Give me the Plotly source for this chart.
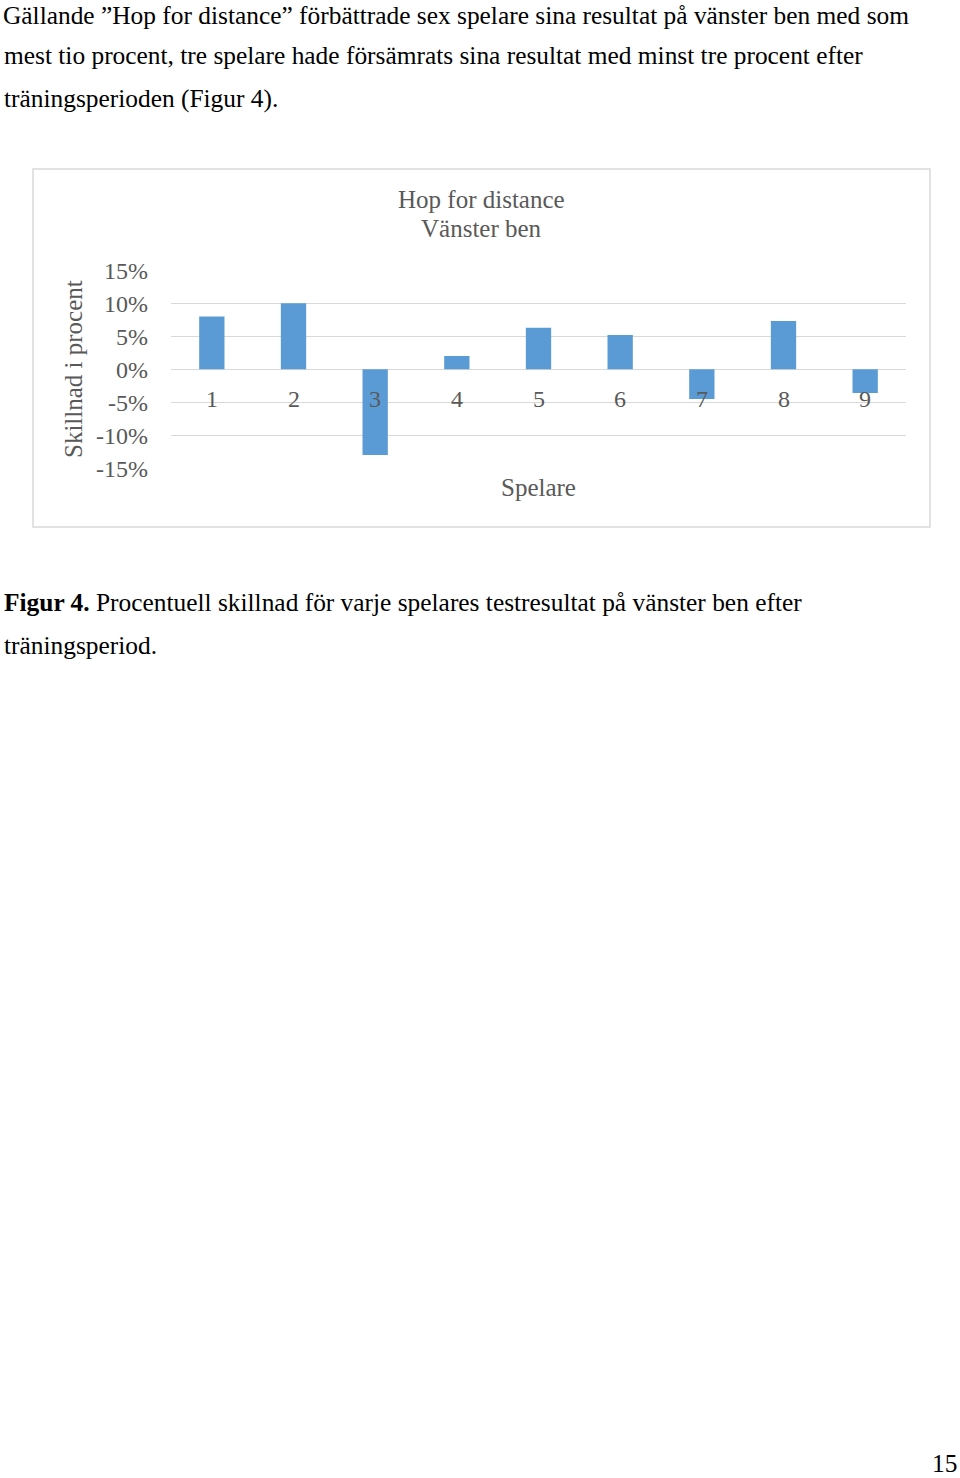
import plotly.graph_objects as go

W, H = 960, 1478

players = ["1", "2", "3", "4", "5", "6", "7", "8", "9"]
change_pct = [8.0, 10.0, -13.0, 2.0, 6.3, 5.2, -4.5, 7.3, -3.6]
y_ticks = [-15, -10, -5, 0, 5, 10, 15]
y_tick_labels = ["-15%", "-10%", "-5%", "0%", "5%", "10%", "15%"]

body_lines = [
    "Gällande ”Hop for distance” förbättrade sex spelare sina resultat på vänster ben med som",
    "mest tio procent, tre spelare hade försämrats sina resultat med minst tre procent efter",
    "träningsperioden (Figur 4).",
]
caption_lines = [
    "<b>Figur 4.</b> Procentuell skillnad för varje spelares testresultat på vänster ben efter",
    "träningsperiod.",
]
chart_title_lines = ["Hop for distance", "Vänster ben"]
x_title = "Spelare"
y_title = "Skillnad i procent"
page_number = "15"

SERIF = "Liberation Serif, Times New Roman, serif"
GRAY = "#595959"
GRID = "#d9d9d9"
BODY_SIZE = 25.4


def px(x):
    return x / W


def py(y):
    return 1 - y / H


fig = go.Figure()
fig.add_trace(go.Bar(
    x=players, y=change_pct,
    marker=dict(color="#5b9bd5", line=dict(width=0)),
    width=0.31,
    hoverinfo="skip",
))

annotations = []
# category labels next to the axis (Excel style, near the 0 line)
for i, p in enumerate(players):
    annotations.append(dict(
        x=i, y=0, xref="x", yref="y", text=p, showarrow=False,
        yanchor="middle", xanchor="center", yshift=-30,
        font=dict(family=SERIF, size=24, color=GRAY),
    ))

# body text
for i, line in enumerate(body_lines):
    if i == 0:
        pos = dict(y=py(0), yanchor="top", borderpad=0)
    else:
        pos = dict(y=py(12 + 43 * i), yanchor="middle")
    annotations.append(dict(
        x=px(2), xref="paper", yref="paper", text=line,
        showarrow=False, xanchor="left",
        font=dict(family=SERIF, size=BODY_SIZE, color="black"), **pos,
    ))
for i, line in enumerate(caption_lines):
    annotations.append(dict(
        x=px(2), y=py(602 + 43 * i), xref="paper", yref="paper", text=line,
        showarrow=False, xanchor="left", yanchor="middle",
        font=dict(family=SERIF, size=BODY_SIZE, color="black"),
    ))

for i, t in enumerate(chart_title_lines):
    annotations.append(dict(
        x=px(481), y=py(200 + 29 * i), xref="paper", yref="paper", text=t,
        showarrow=False, xanchor="center", yanchor="middle",
        font=dict(family=SERIF, size=25, color=GRAY),
    ))
annotations.append(dict(
    x=px(538), y=py(488), xref="paper", yref="paper", text=x_title,
    showarrow=False, xanchor="center", yanchor="middle",
    font=dict(family=SERIF, size=25, color=GRAY),
))
annotations.append(dict(
    x=px(74), y=py(369), xref="paper", yref="paper", text=y_title,
    showarrow=False, xanchor="center", yanchor="middle", textangle=-90,
    font=dict(family=SERIF, size=25, color=GRAY),
))
annotations.append(dict(
    x=px(958), y=py(1478), xref="paper", yref="paper", text=page_number,
    showarrow=False, xanchor="right", yanchor="bottom", borderpad=0,
    font=dict(family=SERIF, size=BODY_SIZE, color="black"),
))

fig.update_layout(
    width=W, height=H,
    margin=dict(l=0, r=0, t=0, b=0, pad=0, autoexpand=False),
    paper_bgcolor="white", plot_bgcolor="white",
    showlegend=False,
    bargap=0.69,
    annotations=annotations,
    shapes=[dict(
        type="rect", xref="paper", yref="paper",
        x0=px(33), x1=px(930), y0=py(527), y1=py(169),
        line=dict(color=GRID, width=1.5), fillcolor="rgba(0,0,0,0)", layer="below",
    )],
    xaxis=dict(
        domain=[px(171), px(906)],
        showticklabels=False, showgrid=False, zeroline=False,
        showline=False, ticks="", fixedrange=True,
    ),
    yaxis=dict(
        domain=[py(468.3), py(270.3)],
        range=[-15, 15],
        tickvals=y_ticks, ticktext=y_tick_labels,
        showgrid=True, gridcolor=GRID, gridwidth=1,
        zeroline=True, zerolinecolor=GRID, zerolinewidth=1,
        showline=False, ticks="", ticklabelstandoff=22,
        tickfont=dict(family=SERIF, size=24, color=GRAY),
        fixedrange=True,
    ),
)

fig.write_html("out.html")
